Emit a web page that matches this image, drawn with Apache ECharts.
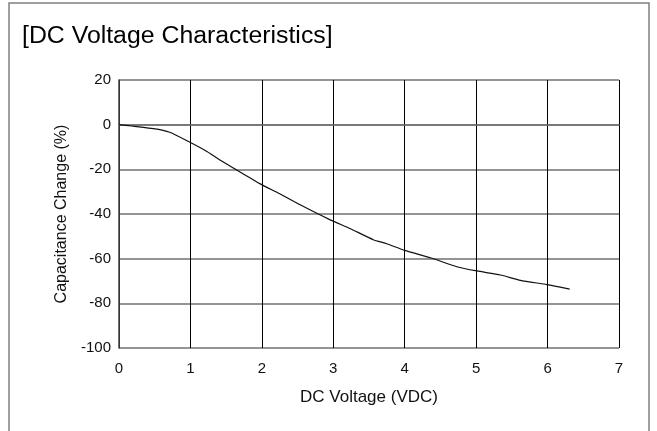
<!DOCTYPE html>
<html>
<head>
<meta charset="utf-8">
<script src="https://cdn.jsdelivr.net/npm/echarts@6/dist/echarts.min.js"></script>
<style>
html,body{margin:0;padding:0;background:#fff;}
#c{width:657px;height:431px;}
</style>
</head>
<body>
<div id="c"></div>
<script>
const titleText = "[DC Voltage Characteristics]";
const xName = "DC Voltage (VDC)";
const yName = "Capacitance Change (%)";
const voltage = [0, 0.48, 0.71, 1.0, 1.23, 1.46, 1.6, 1.97, 2.25, 2.55, 2.95, 3.24, 3.56, 3.75, 4.0, 4.36, 4.73, 5.01, 5.34, 5.62, 5.99, 6.31];
const capChange = [0, -1.8, -3.4, -8, -12, -16.7, -19.4, -26.4, -30.9, -36.1, -42.5, -46.6, -51.5, -53.3, -56.3, -59.6, -63.6, -65.5, -67.3, -69.7, -71.6, -73.6];

const chart = echarts.init(document.getElementById('c'), null, {renderer:'canvas'});
const font = "'Liberation Sans', Arial, sans-serif";
chart.setOption({
  animation:false,
  backgroundColor:'#fff',
  graphic:[
    {type:'rect', shape:{x:9,y:3,width:640,height:440}, style:{fill:'none', stroke:'#808080', lineWidth:1.5}, z:-1},
    {type:'text', x:22, y:37, scaleX:1.08, style:{text:titleText, font:"23px 'Liberation Sans', Arial, sans-serif", fill:'#000', verticalAlign:'middle', align:'left'}}
  ],
  grid:{left:119, right:38, top:80, bottom:83},
  xAxis:{
    type:'value', min:0, max:7, interval:1,
    name:xName, nameLocation:'middle', nameGap:41,
    nameTextStyle:{fontFamily:font, fontSize:17, color:'#111'},
    axisLine:{show:true, lineStyle:{color:'#707070', width:1.5}},
    axisTick:{show:false},
    axisLabel:{fontFamily:font, fontSize:15, color:'#111', margin:13},
    splitLine:{show:true, lineStyle:{color:'#000', width:1}}
  },
  yAxis:{
    type:'value', min:-100, max:20, interval:20,
    name:yName, nameLocation:'middle', nameGap:44, nameRotate:90,
    nameTextStyle:{fontFamily:font, fontSize:16, color:'#111'},
    axisLine:{show:true, lineStyle:{color:'#444', width:1.5}},
    axisTick:{show:false},
    axisLabel:{fontFamily:font, fontSize:15, color:'#111', margin:8},
    splitLine:{show:true, lineStyle:{color:'#707070', width:1.5}}
  },
  series:[{
    type:'line',
    data: voltage.map((v,i)=>[v, capChange[i]]),
    showSymbol:false, symbol:'none',
    smooth:0.2,
    lineStyle:{color:'#111', width:1.2}
  }]
});
</script>
</body>
</html>
